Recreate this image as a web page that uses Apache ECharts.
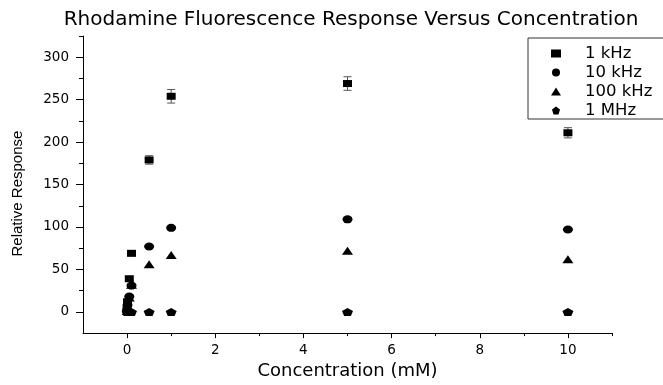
<!DOCTYPE html>
<html>
<head>
<meta charset="utf-8">
<script src="https://cdn.jsdelivr.net/npm/echarts@6/dist/echarts.min.js"></script>
<style>
html,body{margin:0;padding:0;background:#fff;}
#chart{width:663px;height:385px;}
</style>
</head>
<body>
<div id="chart"></div>
<script>
// Data
const concentration = [0.001, 0.01, 0.05, 0.1, 0.5, 1, 5, 10];
const kHz1   = [3, 12, 39, 69, 179, 254, 269, 211];
const kHz1Err = [1, 2, 3, 3, 5, 8, 8, 6];
const kHz10  = [2, 8, 18, 31, 77, 99, 109, 97];
const kHz100 = [1, 6, 17, 32, 56, 67, 72, 62];
const MHz1   = [0, 0, 0, 0, 0, 0, 0, 0];
const seriesNames = ['1 kHz', '10 kHz', '100 kHz', '1 MHz'];
const xMajorTicks = [0, 2, 4, 6, 8, 10];
const xMinorTicks = [1, 3, 5, 7, 9, 11];
const yMajorTicks = [0, 50, 100, 150, 200, 250, 300];
const yMinorTicks = [25, 75, 125, 175, 225, 275, 325];

const pentagon = 'path://M5,0 L10,3.8 L8.1,10 L1.9,10 L0,3.8 Z';
const FONT = 'DejaVu Sans';

function pairs(ys) { return concentration.map((x, i) => [x, ys[i]]); }

const chart = echarts.init(document.getElementById('chart'), null, {renderer: 'canvas'});

const axisLineStyle = {color: '#000', width: 1};
const markStyle = {color: '#000', opacity: 1};

const option = {
  animation: false,
  backgroundColor: '#fff',
  title: {
    text: 'Rhodamine Fluorescence Response Versus Concentration',
    left: 346,
    textAlign: 'center',
    top: 5,
    textStyle: {fontFamily: FONT, fontSize: 20, fontWeight: 'normal', color: '#000'}
  },
  legend: {
    orient: 'vertical',
    left: 528,
    top: 38,
    padding: [7, 30, 0, 23],
    itemGap: 2,
    itemWidth: 10,
    itemHeight: 8,
    borderColor: '#333',
    borderWidth: 1,
    textStyle: {fontFamily: FONT, fontSize: 16.5, color: '#000', lineHeight: 16.5, padding: [0, 0, 0, 19]},
    data: seriesNames
  },
  grid: {left: 83, right: 51, top: 36, bottom: 43, containLabel: false},
  xAxis: [{
    type: 'value', min: -1, max: 11,
    name: 'Concentration (mM)', nameLocation: 'middle', nameGap: 25,
    nameTextStyle: {fontFamily: FONT, fontSize: 18, color: '#000'},
    axisLine: {show: true, onZero: false, lineStyle: axisLineStyle},
    axisTick: {show: true, length: 5, customValues: xMajorTicks, lineStyle: axisLineStyle},
    axisLabel: {customValues: xMajorTicks, margin: 10, fontFamily: FONT, fontSize: 13.5, color: '#000'},
    splitLine: {show: false}
  }, {
    type: 'value', min: -1, max: 11, position: 'bottom',
    axisLine: {show: false, onZero: false},
    axisTick: {show: true, length: 3, customValues: xMinorTicks, lineStyle: axisLineStyle},
    axisLabel: {show: false},
    splitLine: {show: false}
  }],
  yAxis: [{
    type: 'value', min: -25, max: 325,
    name: 'Relative Response', nameLocation: 'middle', nameGap: 58,
    nameTextStyle: {fontFamily: 'Liberation Sans', fontSize: 15, color: '#000', padding: [0, 18, 0, 0]},
    axisLine: {show: true, onZero: false, lineStyle: axisLineStyle},
    axisTick: {show: true, length: 7, customValues: yMajorTicks, lineStyle: axisLineStyle},
    axisLabel: {customValues: yMajorTicks, margin: 14, fontFamily: FONT, fontSize: 13.5, color: '#000'},
    splitLine: {show: false}
  }, {
    type: 'value', min: -25, max: 325, position: 'left',
    axisLine: {show: false, onZero: false},
    axisTick: {show: true, length: 4, customValues: yMinorTicks, lineStyle: axisLineStyle},
    axisLabel: {show: false},
    splitLine: {show: false}
  }],
  series: [
    {
      type: 'custom', name: '1 kHz error', silent: true, z: 1,
      data: concentration.map((x, i) => [x, kHz1[i], kHz1Err[i]]),
      renderItem: function (params, api) {
        const x = api.value(0), y = api.value(1), e = api.value(2);
        const top = api.coord([x, y + e]);
        const bot = api.coord([x, y - e]);
        const hw = 4;
        const style = {stroke: '#555', lineWidth: 1};
        return {
          type: 'group',
          children: [
            {type: 'line', shape: {x1: top[0], y1: top[1], x2: bot[0], y2: bot[1]}, style: style},
            {type: 'line', shape: {x1: top[0] - hw, y1: top[1], x2: top[0] + hw, y2: top[1]}, style: style},
            {type: 'line', shape: {x1: bot[0] - hw, y1: bot[1], x2: bot[0] + hw, y2: bot[1]}, style: style}
          ]
        };
      }
    },
    {type: 'scatter', name: '1 kHz', data: pairs(kHz1), symbol: 'rect', symbolSize: [9, 7],
     itemStyle: markStyle, z: 3},
    {type: 'scatter', name: '10 kHz', data: pairs(kHz10), symbol: 'circle', symbolSize: [10, 8],
     itemStyle: markStyle, z: 3},
    {type: 'scatter', name: '100 kHz', data: pairs(kHz100), symbol: 'triangle', symbolSize: [11, 8],
     itemStyle: markStyle, z: 3},
    {type: 'scatter', name: '1 MHz', data: pairs(MHz1), symbol: pentagon, symbolSize: [11, 8],
     itemStyle: markStyle, z: 3}
  ]
};
chart.setOption(option);
</script>
</body>
</html>
